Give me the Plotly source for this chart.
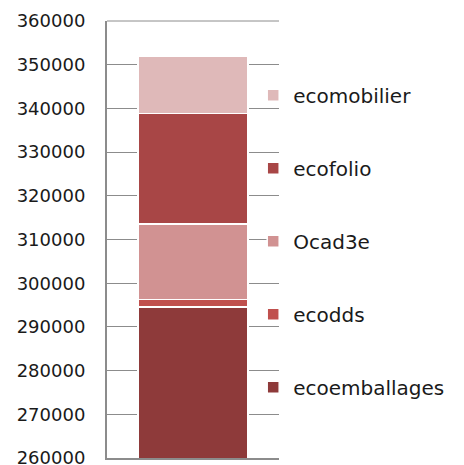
import plotly.graph_objects as go

categories = [""]
series_names = ["ecoemballages", "ecodds", "Ocad3e", "ecofolio", "ecomobilier"]
series_values = [[294600], [1700], [17300], [25200], [13100]]
series_colors = ["#8E3A3A", "#C0504D", "#D19292", "#A84646", "#DFB9B9"]
y_ticks = list(range(260000, 360001, 10000))

fig = go.Figure()
n = len(series_names)
for i, (name, vals, col) in enumerate(zip(series_names, series_values, series_colors)):
    fig.add_trace(go.Bar(
        x=categories, y=vals, name=name, width=0.64,
        marker=dict(color=col, line=dict(color="white", width=1.5)),
        legendgroup=name, legendrank=n - i,
    ))

fig.update_layout(
    barmode="stack",
    width=456, height=457,
    margin=dict(l=99, r=185, t=13, b=7, autoexpand=False),
    paper_bgcolor="white", plot_bgcolor="white",
    font=dict(family="DejaVu Sans", size=16, color="#1a1a1a"),
    legend=dict(
        x=0.85, xanchor="left", y=0.875, yanchor="top",
        traceorder="grouped", tracegroupgap=44,
        font=dict(size=20, family="DejaVu Sans", color="#1a1a1a"),
        bgcolor="rgba(0,0,0,0)",
    ),
    showlegend=True,
    shapes=[dict(type="line", xref="paper", yref="paper", x0=0, x1=1, y0=1, y1=1,
                 line=dict(color="#8C8C8C", width=1), layer="below")],
)
fig.update_yaxes(
    range=[260000, 360000], tickvals=y_ticks, ticktext=[str(v) for v in y_ticks],
    showgrid=True, gridcolor="#8C8C8C", gridwidth=1,
    showline=True, linecolor="#8C8C8C", linewidth=2,
    ticks="", ticklabelstandoff=16, zeroline=False, automargin=False,
    ticklabeloverflow="allow",
    tickfont=dict(size=18, family="DejaVu Sans", color="#1a1a1a"),
)
fig.update_xaxes(
    range=[-0.5, 0.5], showticklabels=False, showgrid=False, automargin=False,
    showline=True, linecolor="#8C8C8C", linewidth=2, zeroline=False,
)

fig.write_html("out.html")
